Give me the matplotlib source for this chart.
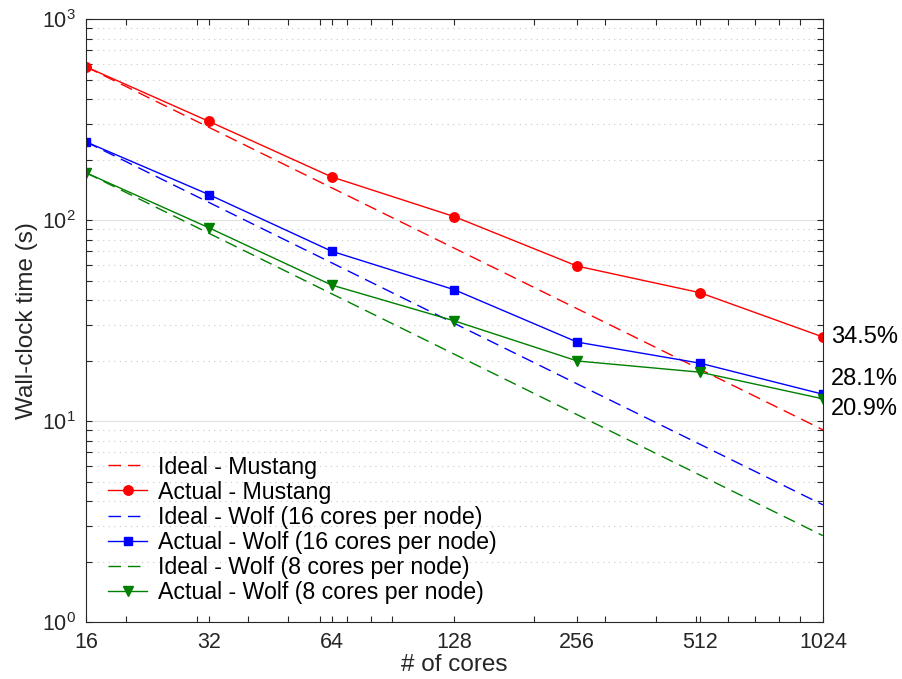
import numpy as np
import matplotlib
matplotlib.use('Agg')
import matplotlib.pyplot as plt
from matplotlib.ticker import FixedLocator, FixedFormatter, LogLocator, NullFormatter

plt.rcParams['font.family'] = ['Liberation Sans', 'DejaVu Sans']
plt.rcParams['mathtext.fontset'] = 'custom'
plt.rcParams['mathtext.rm'] = 'Liberation Sans'

# data
cores = [16, 32, 64, 128, 256, 512, 1024]
cores_labels = ['16', '32', '64', '128', '256', '512', '1024']

mustang_ideal = [579, 289.5, 144.8, 72.4, 36.2, 18.1, 9.05]
mustang_actual = [579, 310, 164, 104, 59, 43.5, 26.2]
wolf16_ideal = [245, 122.5, 61.3, 30.6, 15.3, 7.66, 3.83]
wolf16_actual = [245, 134, 70, 45, 24.7, 19.4, 13.6]
wolf8_ideal = [172, 86, 43, 21.5, 10.75, 5.38, 2.69]
wolf8_actual = [172, 91.6, 47.5, 31.5, 19.9, 17.5, 12.9]

efficiency = ['34.5%', '28.1%', '20.9%']

fig = plt.figure(figsize=(9.02, 6.79), dpi=100)
ax = fig.add_axes([0.0953, 0.0839, 0.817, 0.888])

dash = (9, 5)
ax.plot(cores, mustang_ideal, color='red', lw=1.0, dashes=dash, label='Ideal - Mustang')
ax.plot(cores, mustang_actual, color='red', lw=1.0, marker='o', ms=6.8, label='Actual - Mustang')
ax.plot(cores, wolf16_ideal, color='blue', lw=1.0, dashes=dash, label='Ideal - Wolf (16 cores per node)')
ax.plot(cores, wolf16_actual, color='blue', lw=1.0, marker='s', ms=5.7, label='Actual - Wolf (16 cores per node)')
ax.plot(cores, wolf8_ideal, color='green', lw=1.0, dashes=dash, label='Ideal - Wolf (8 cores per node)')
ax.plot(cores, wolf8_actual, color='green', lw=1.0, marker='v', ms=7.3, label='Actual - Wolf (8 cores per node)')

ax.set_xscale('log', base=2)
ax.set_yscale('log')
ax.set_xlim(16, 1024)
ax.set_ylim(1, 1000)

ax.xaxis.set_major_locator(FixedLocator(cores))
ax.xaxis.set_major_formatter(FixedFormatter(cores_labels))
minor_x = [20, 30, 40, 50, 60, 70, 80, 90, 200, 300, 400, 500, 600, 700, 800, 900]
ax.xaxis.set_minor_locator(FixedLocator(minor_x))
ax.xaxis.set_minor_formatter(NullFormatter())
ax.yaxis.set_major_locator(LogLocator(base=10, numticks=10))
ax.yaxis.set_minor_locator(LogLocator(base=10, subs=np.arange(2, 10), numticks=10))
ax.yaxis.set_minor_formatter(NullFormatter())

ax.tick_params(which='both', direction='in', top=True, right=True, length=4.5,
               width=0.8, color='#262626')
ax.tick_params(which='major', labelsize=15.5, pad=7, labelcolor='#262626')
for s in ax.spines.values():
    s.set_color('#262626')
    s.set_linewidth(0.8)

ax.grid(True, which='major', axis='y', color='#e0e0e0', lw=0.8, ls='-')
ax.grid(True, which='minor', axis='y', color='#c8c8c8', lw=0.8, dashes=(1, 4))
ax.set_axisbelow(True)

ax.set_xlabel('# of cores', fontsize=17.5, labelpad=1, color='#262626')
ax.set_ylabel('Wall-clock time (s)', fontsize=17.5, labelpad=3, color='#262626')

ax.annotate(efficiency[0], (cores[-1], mustang_actual[-1]), xytext=(6, 0),
            textcoords='offset points', fontsize=17, va='center', ha='left',
            annotation_clip=False)
ax.annotate(efficiency[1], (cores[-1], wolf16_actual[-1]), xytext=(6, 11),
            textcoords='offset points', fontsize=17, va='center', ha='left',
            annotation_clip=False)
ax.annotate(efficiency[2], (cores[-1], wolf8_actual[-1]), xytext=(6, -7),
            textcoords='offset points', fontsize=17, va='center', ha='left',
            annotation_clip=False)

ax.legend(loc='lower left', bbox_to_anchor=(0.03, 0.03), frameon=False,
          fontsize=16.7, handlelength=1.7, handletextpad=0.45, labelspacing=0.09,
          borderpad=0, borderaxespad=0)

fig.savefig('out.png', dpi=100)
